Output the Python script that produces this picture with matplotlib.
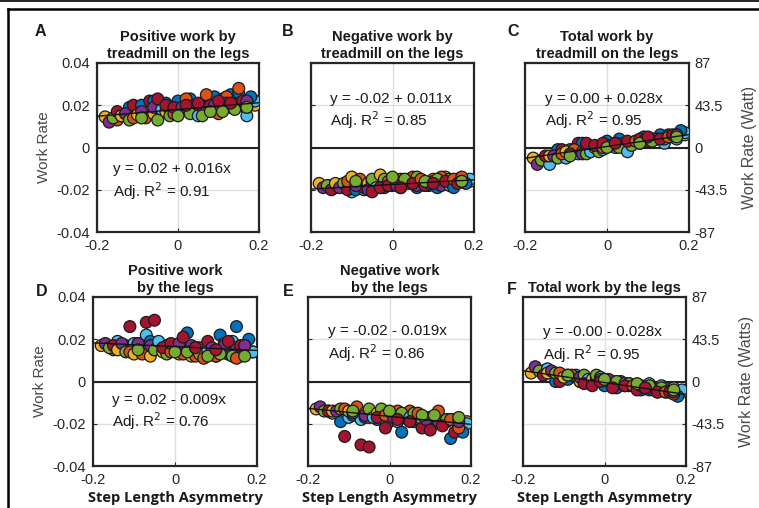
import matplotlib
matplotlib.use("Agg")
import matplotlib.pyplot as plt
from matplotlib.lines import Line2D

# ---------------- data ----------------
subject_colors = ["#0072BD", "#D95319", "#EDB120", "#7E2F8E", "#77AC30", "#4DBEEE", "#A2142F"]

x_blue = [-0.12, -0.09, -0.06, -0.03, 0.00, 0.03, 0.06, 0.09, 0.11, 0.13, 0.15, 0.18]
x_orange = [-0.15, -0.11, -0.08, -0.05, -0.01, 0.02, 0.05, 0.07, 0.10, 0.12, 0.15, 0.17]
x_yellow = [-0.18, -0.14, -0.10, -0.06, -0.03, 0.01, 0.04, 0.07, 0.10, 0.13, 0.16, 0.19]
x_purple = [-0.17, -0.13, -0.09, -0.06, -0.02, 0.01, 0.04, 0.06, 0.09, 0.12, 0.15, 0.17]
x_green = [-0.16, -0.12, -0.09, -0.05, -0.02, 0.00, 0.03, 0.06, 0.08, 0.11, 0.14, 0.17]
x_lightblue = [-0.14, -0.10, -0.07, -0.04, -0.01, 0.02, 0.05, 0.08, 0.11, 0.14, 0.17, 0.19]
x_darkred = [-0.15, -0.11, -0.07, -0.05, -0.03, -0.01, 0.02, 0.05, 0.08, 0.10, 0.13, 0.16]
x_subjects = [x_blue, x_orange, x_yellow, x_purple, x_green, x_lightblue, x_darkred]

# A: positive work by treadmill on the legs
A_y = [
    [0.019, 0.020, 0.022, 0.021, 0.022, 0.023, 0.021, 0.024, 0.023, 0.025, 0.026, 0.024],
    [0.013, 0.014, 0.014, 0.019, 0.016, 0.023, 0.016, 0.025, 0.016, 0.024, 0.028, 0.019],
    [0.0145, 0.015, 0.0155, 0.016, 0.017, 0.0175, 0.018, 0.0185, 0.019, 0.019, 0.0195, 0.020],
    [0.012, 0.016, 0.017, 0.019, 0.018, 0.019, 0.020, 0.019, 0.020, 0.021, 0.021, 0.022],
    [0.014, 0.013, 0.014, 0.013, 0.015, 0.015, 0.016, 0.015, 0.017, 0.017, 0.018, 0.019],
    [0.015, 0.016, 0.017, 0.018, 0.019, 0.019, 0.015, 0.020, 0.021, 0.020, 0.015, 0.022],
    [0.017, 0.020, 0.022, 0.023, 0.020, 0.019, 0.020, 0.021, 0.020, 0.022, 0.021, 0.022],
]
# B: negative work by treadmill on the legs
B_y = [
    [-0.019, -0.020, -0.018, -0.019, -0.018, -0.017, -0.019, -0.018, -0.019, -0.017, -0.019, -0.017],
    [-0.018, -0.016, -0.015, -0.016, -0.016, -0.015, -0.014, -0.015, -0.016, -0.014, -0.015, -0.014],
    [-0.017, -0.017, -0.014, -0.017, -0.013, -0.016, -0.015, -0.016, -0.015, -0.014, -0.015, -0.016],
    [-0.019, -0.019, -0.018, -0.020, -0.019, -0.018, -0.017, -0.018, -0.017, -0.018, -0.017, -0.016],
    [-0.018, -0.017, -0.016, -0.015, -0.015, -0.014, -0.015, -0.014, -0.016, -0.015, -0.015, -0.016],
    [-0.019, -0.021, -0.020, -0.019, -0.018, -0.019, -0.017, -0.018, -0.017, -0.018, -0.016, -0.015],
    [-0.020, -0.020, -0.019, -0.021, -0.019, -0.018, -0.019, -0.017, -0.018, -0.017, -0.016, -0.017],
]
# C: total work by treadmill on the legs
C_y = [
    [-0.001, -0.001, 0.002, 0.000, 0.003, 0.004, 0.002, 0.005, 0.004, 0.006, 0.006, 0.008],
    [-0.005, -0.003, -0.001, 0.000, 0.000, 0.002, 0.002, 0.003, 0.003, 0.004, 0.005, 0.006],
    [-0.005, -0.004, -0.002, -0.002, 0.000, 0.001, 0.002, 0.003, 0.004, 0.004, 0.005, 0.006],
    [-0.008, -0.004, -0.003, -0.003, -0.001, 0.001, 0.002, 0.002, 0.003, 0.004, 0.005, 0.006],
    [-0.006, -0.005, -0.004, -0.003, -0.002, 0.000, 0.000, 0.001, 0.002, 0.003, 0.004, 0.005],
    [-0.008, -0.005, -0.003, -0.002, -0.001, 0.000, -0.002, 0.002, 0.004, 0.002, 0.004, 0.007],
    [-0.004, -0.001, 0.002, 0.002, 0.001, 0.002, 0.002, 0.003, 0.004, 0.005, 0.004, 0.006],
]
# D: positive work by the legs
D_y = [
    [0.017, 0.018, 0.019, 0.015, 0.016, 0.023, 0.015, 0.014, 0.022, 0.013, 0.026, 0.020],
    [0.015, 0.014, 0.013, 0.015, 0.014, 0.013, 0.012, 0.011, 0.012, 0.018, 0.011, 0.017],
    [0.017, 0.015, 0.013, 0.012, 0.014, 0.013, 0.012, 0.013, 0.012, 0.013, 0.012, 0.014],
    [0.018, 0.018, 0.018, 0.017, 0.017, 0.018, 0.017, 0.016, 0.016, 0.017, 0.016, 0.017],
    [0.016, 0.014, 0.015, 0.015, 0.013, 0.014, 0.014, 0.013, 0.012, 0.013, 0.012, 0.012],
    [0.019, 0.018, 0.022, 0.019, 0.017, 0.016, 0.016, 0.015, 0.015, 0.019, 0.014, 0.014],
    [0.017, 0.026, 0.028, 0.029, 0.016, 0.018, 0.021, 0.016, 0.019, 0.015, 0.019, 0.017],
]
# E: negative work by the legs
E_y = [
    [-0.019, -0.016, -0.017, -0.018, -0.019, -0.024, -0.019, -0.020, -0.019, -0.020, -0.027, -0.024],
    [-0.014, -0.013, -0.012, -0.017, -0.016, -0.014, -0.014, -0.015, -0.017, -0.014, -0.018, -0.022],
    [-0.013, -0.014, -0.014, -0.015, -0.015, -0.016, -0.016, -0.017, -0.017, -0.018, -0.018, -0.019],
    [-0.012, -0.014, -0.015, -0.016, -0.015, -0.017, -0.017, -0.018, -0.018, -0.019, -0.018, -0.019],
    [-0.014, -0.013, -0.014, -0.013, -0.013, -0.014, -0.015, -0.015, -0.016, -0.016, -0.018, -0.017],
    [-0.015, -0.017, -0.018, -0.017, -0.018, -0.019, -0.017, -0.018, -0.020, -0.019, -0.022, -0.020],
    [-0.014, -0.026, -0.030, -0.031, -0.017, -0.022, -0.018, -0.019, -0.022, -0.023, -0.021, -0.024],
]
# F: total work by the legs
F_y = [
    [0.000, 0.001, 0.000, -0.001, -0.002, -0.003, -0.002, -0.004, -0.004, -0.005, -0.005, -0.007],
    [0.005, 0.004, 0.003, 0.002, 0.001, -0.001, -0.002, -0.002, -0.003, -0.004, -0.005, -0.006],
    [0.004, 0.004, 0.002, 0.000, 0.001, 0.000, -0.001, -0.002, -0.003, -0.004, -0.005, -0.005],
    [0.007, 0.005, 0.003, 0.002, 0.002, 0.001, 0.000, -0.001, -0.002, -0.003, -0.003, -0.005],
    [0.005, 0.004, 0.003, 0.003, 0.003, 0.001, 0.000, -0.001, -0.001, -0.002, -0.003, -0.004],
    [0.006, 0.003, 0.003, 0.001, 0.002, 0.000, -0.001, -0.002, -0.001, -0.002, -0.003, -0.004],
    [0.003, 0.000, 0.002, -0.001, -0.002, 0.000, -0.003, -0.002, -0.004, -0.003, -0.005, -0.005],
]

panel_letters = ["A", "B", "C", "D", "E", "F"]
panel_titles = [
    "Positive work by\ntreadmill on the legs",
    "Negative work by\ntreadmill on the legs",
    "Total work by\ntreadmill on the legs",
    "Positive work\nby the legs",
    "Negative work\nby the legs",
    "Total work by the legs",
]
panel_eq = ["y = 0.02 + 0.016x", "y = -0.02 + 0.011x", "y = 0.00 + 0.028x",
            "y = 0.02 - 0.009x", "y = -0.02 - 0.019x", "y = -0.00 - 0.028x"]
panel_r2 = ["0.91", "0.85", "0.95", "0.76", "0.86", "0.95"]
fit_intercepts = [0.018, -0.0175, 0.0005, 0.0165, -0.0165, -0.0005]
fit_slopes = [0.016, 0.011, 0.028, -0.009, -0.019, -0.028]
panel_data = [A_y, B_y, C_y, D_y, E_y, F_y]

x_ticks = [-0.2, 0, 0.2]
x_ticklabels = ["-0.2", "0", "0.2"]
y_ticks = [-0.04, -0.02, 0, 0.02, 0.04]
y_ticklabels = ["-0.04", "-0.02", "0", "0.02", "0.04"]
watt_ticklabels = ["-87", "-43.5", "0", "43.5", "87"]
right_labels = {2: "Work Rate (Watt)", 5: "Work Rate (Watts)"}

# ---------------- layout ----------------
W, H = 759, 508
fig = plt.figure(figsize=(W / 100, H / 100), dpi=100)
plt.rcParams["font.family"] = ["Liberation Sans", "DejaVu Sans"]

boxes = [(97, 259, 63, 232), (311, 474, 63, 232), (525, 689, 63, 232),
         (93, 257, 297, 466), (308, 471, 297, 466), (523, 686, 297, 466)]
eq_pos = [(-0.16, -0.0104, -0.0208), (-0.153, 0.0229, 0.0131), (-0.151, 0.0229, 0.0129),
          (-0.154, -0.0088, -0.0190), (-0.151, 0.0238, 0.0133), (-0.151, 0.0233, 0.0129)]
letter_pos = [(40, 32), (288, 32), (513, 32), (42, 292), (288, 292), (512, 290)]
title_bottom = [61, 61, 61, 295, 295, 295]

TXT = "#262626"
n_sub = len(x_subjects)
n_per = len(x_blue)
others = [0, 1, 3, 4, 5, 6]  # yellow (2) is drawn first, underneath the rest
for i in range(6):
    l, r, t, b = boxes[i]
    ax = fig.add_axes([l / W, 1 - b / H, (r - l) / W, (b - t) / H])
    ax.set_xlim(-0.2, 0.2)
    ax.set_ylim(-0.04, 0.04)
    ax.set_xticks(x_ticks)
    ax.set_yticks(y_ticks)
    ax.grid(True, color="#dedede", linewidth=1.0, zorder=0)
    ax.set_axisbelow(True)
    for s in ax.spines.values():
        s.set_linewidth(1.6)
        s.set_color("#262626")
    ax.tick_params(direction="in", length=3, width=0.8, color="#262626",
                   labelsize=10.5, labelcolor=TXT)
    ax.tick_params(axis="x", pad=5)
    ax.tick_params(axis="y", pad=5)
    ax.set_xticklabels(x_ticklabels)
    if i in (2, 5):
        ax.yaxis.tick_right()
        ax.set_yticklabels(watt_ticklabels)
        ax.tick_params(axis="y", left=False, labelleft=False, pad=4)
        ax.yaxis.set_label_position("right")
        ax.set_ylabel(right_labels[i], fontsize=11.5, color="#4a4a4a", labelpad=10)
    else:
        ax.set_yticklabels(y_ticklabels)
        if i in (0, 3):
            ax.set_ylabel("Work Rate", fontsize=11, color="#4a4a4a", labelpad=4)
        else:
            ax.tick_params(axis="y", labelleft=False)
    ax.axhline(0, color="#222222", linewidth=1.5, zorder=1)

    # scatter; yellow at the bottom, the other subjects in a rotating order
    xs_all, ys_all, cs_all = [], [], []
    for k in range(n_per):
        order = [2] + [others[(j + 2 * k) % len(others)] for j in range(len(others))]
        for sidx in order:
            xs_all.append(x_subjects[sidx][k])
            ys_all.append(panel_data[i][sidx][k])
            cs_all.append(subject_colors[sidx])
    ax.scatter(xs_all, ys_all, s=72, c=cs_all, edgecolors="#1a1a1a", linewidths=0.9, zorder=3)

    xl = ax.get_xlim()
    ax.plot(list(xl), [fit_intercepts[i] + fit_slopes[i] * v for v in xl],
            color="#111111", linewidth=1.0, zorder=4)

    ex, ey1, ey2 = eq_pos[i]
    ax.text(ex, ey1, panel_eq[i], fontsize=11, color="#1a1a1a", va="center", ha="left", zorder=5)
    ax.text(ex, ey2, "Adj. R$^2$ = " + panel_r2[i], fontsize=11, color="#1a1a1a",
            va="center", ha="left", zorder=5)

    fig.text((l + r) / 2 / W, 1 - title_bottom[i] / H, panel_titles[i], ha="center", va="bottom",
             fontsize=10.5, fontweight="bold", color="#1a1a1a", linespacing=1.3)
    lx, ly = letter_pos[i]
    fig.text(lx / W, 1 - ly / H, panel_letters[i], ha="center", va="center",
             fontsize=11.5, fontweight="bold", color="#1a1a1a")
    if i >= 3:
        ax.set_xlabel("Step Length Asymmetry", fontsize=10.5, fontweight="bold",
                      family=["Open Sans", "DejaVu Sans"], color="#1a1a1a", labelpad=3)

# figure frame lines
fig.add_artist(Line2D([0, 1], [1 - 1.2 / H, 1 - 1.2 / H], color="black", linewidth=1.2))
fig.add_artist(Line2D([8 / W, 1], [1 - 8.5 / H, 1 - 8.5 / H], color="black", linewidth=1.8))
fig.add_artist(Line2D([8 / W, 8 / W], [0, 1 - 8.5 / H], color="black", linewidth=1.8))

fig.savefig("out.png", dpi=100)
